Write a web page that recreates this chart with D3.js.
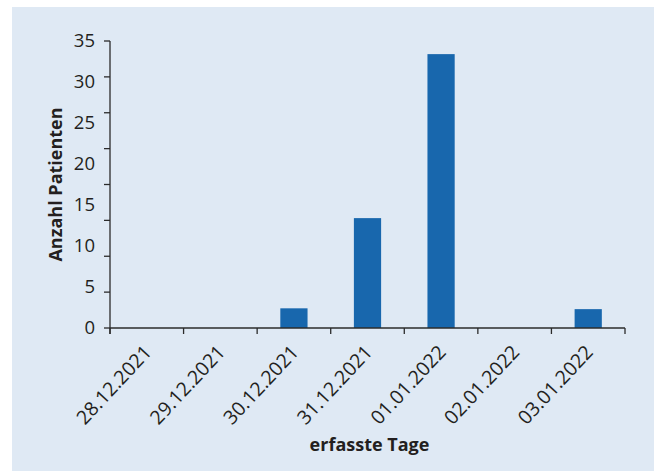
<!DOCTYPE html>
<html>
<head>
<meta charset="utf-8">
<script src="https://cdn.jsdelivr.net/npm/d3@7"></script>
<style>
  html, body { margin: 0; padding: 0; background: #ffffff; }
  svg { display: block; }
  text { font-family: "Open Sans", "DejaVu Sans", sans-serif; fill: #231f20; }
</style>
</head>
<body>
<svg id="chart" width="654" height="472"></svg>
<script>
// Erfasste Patienten pro Tag
const categories = ["28.12.2021", "29.12.2021", "30.12.2021", "31.12.2021", "01.01.2022", "02.01.2022", "03.01.2022"];
const patients = [0, 0, 2.4, 13.4, 33.4, 0, 2.3];
const yTickValues = [0, 5, 10, 15, 20, 25, 30, 35];
const yTitle = "Anzahl Patienten";
const xTitle = "erfasste Tage";

const svg = d3.select("#chart");
const W = 654, H = 472;
const axisColor = "#2b2b2b";
const barColor = "#1867ad";

// panel background
svg.append("rect")
  .attr("x", 12).attr("y", 7)
  .attr("width", W - 12).attr("height", H - 8)
  .attr("fill", "#dfe9f4");

const plot = { left: 110, right: 625, top: 41, bottom: 328 };

const x = d3.scaleBand()
  .domain(categories)
  .range([plot.left, plot.right])
  .paddingInner(0.63)
  .paddingOuter(0.315);

const y = d3.scaleLinear()
  .domain([0, 35])
  .range([plot.bottom, plot.top]);

// bars
svg.append("g")
  .selectAll("rect")
  .data(categories.map((c, i) => ({ c, v: patients[i] })).filter(d => d.v > 0))
  .join("rect")
  .attr("x", d => x(d.c))
  .attr("y", d => y(d.v))
  .attr("width", x.bandwidth())
  .attr("height", d => y(0) - y(d.v))
  .attr("fill", barColor);

// y axis: labels from the value scale
const yAxis = svg.append("g")
  .attr("transform", `translate(${plot.left},0)`)
  .call(d3.axisLeft(y).tickValues(yTickValues).tickSize(0).tickPadding(15));
yAxis.select(".domain").remove();
yAxis.selectAll("text")
  .attr("font-size", 18.5)
  .attr("font-family", "Open Sans")
  .attr("fill", "#231f20");

// y axis line with evenly spaced tick marks
const yTickScale = d3.scaleLinear().domain([0, 8]).range([plot.bottom, plot.top]);
svg.append("line")
  .attr("x1", plot.left).attr("x2", plot.left)
  .attr("y1", plot.top).attr("y2", plot.bottom + 6)
  .attr("stroke", axisColor).attr("stroke-width", 1.3);
svg.append("g")
  .selectAll("line")
  .data(d3.range(0, 9))
  .join("line")
  .attr("x1", plot.left - 6).attr("x2", plot.left)
  .attr("y1", d => yTickScale(d)).attr("y2", d => yTickScale(d))
  .attr("stroke", axisColor).attr("stroke-width", 1.3);

// x axis line with ticks at category boundaries
svg.append("line")
  .attr("x1", plot.left).attr("x2", plot.right)
  .attr("y1", plot.bottom).attr("y2", plot.bottom)
  .attr("stroke", axisColor).attr("stroke-width", 1.3);
const gap = (x.step() - x.bandwidth()) / 2;
const boundaries = categories.map(c => x(c) - gap).concat([plot.right]);
svg.append("g")
  .selectAll("line")
  .data(boundaries)
  .join("line")
  .attr("x1", d => d).attr("x2", d => d)
  .attr("y1", plot.bottom).attr("y2", plot.bottom + 6)
  .attr("stroke", axisColor).attr("stroke-width", 1.3);

// rotated category labels
svg.append("g")
  .selectAll("text")
  .data(categories)
  .join("text")
  .attr("transform", d => `translate(${x(d) + x.bandwidth() / 2 + 6},${plot.bottom + 25}) rotate(-47)`)
  .attr("text-anchor", "end")
  .attr("font-size", 19.5)
  .text(d => d);

// axis titles
svg.append("text")
  .attr("transform", `translate(62,${(plot.top + plot.bottom) / 2}) rotate(-90)`)
  .attr("text-anchor", "middle")
  .attr("font-size", 18)
  .attr("font-weight", "bold")
  .text(yTitle);

svg.append("text")
  .attr("x", (plot.left + plot.right) / 2 + 2)
  .attr("y", 451)
  .attr("text-anchor", "middle")
  .attr("font-size", 18)
  .attr("font-weight", "bold")
  .text(xTitle);
</script>
</body>
</html>
